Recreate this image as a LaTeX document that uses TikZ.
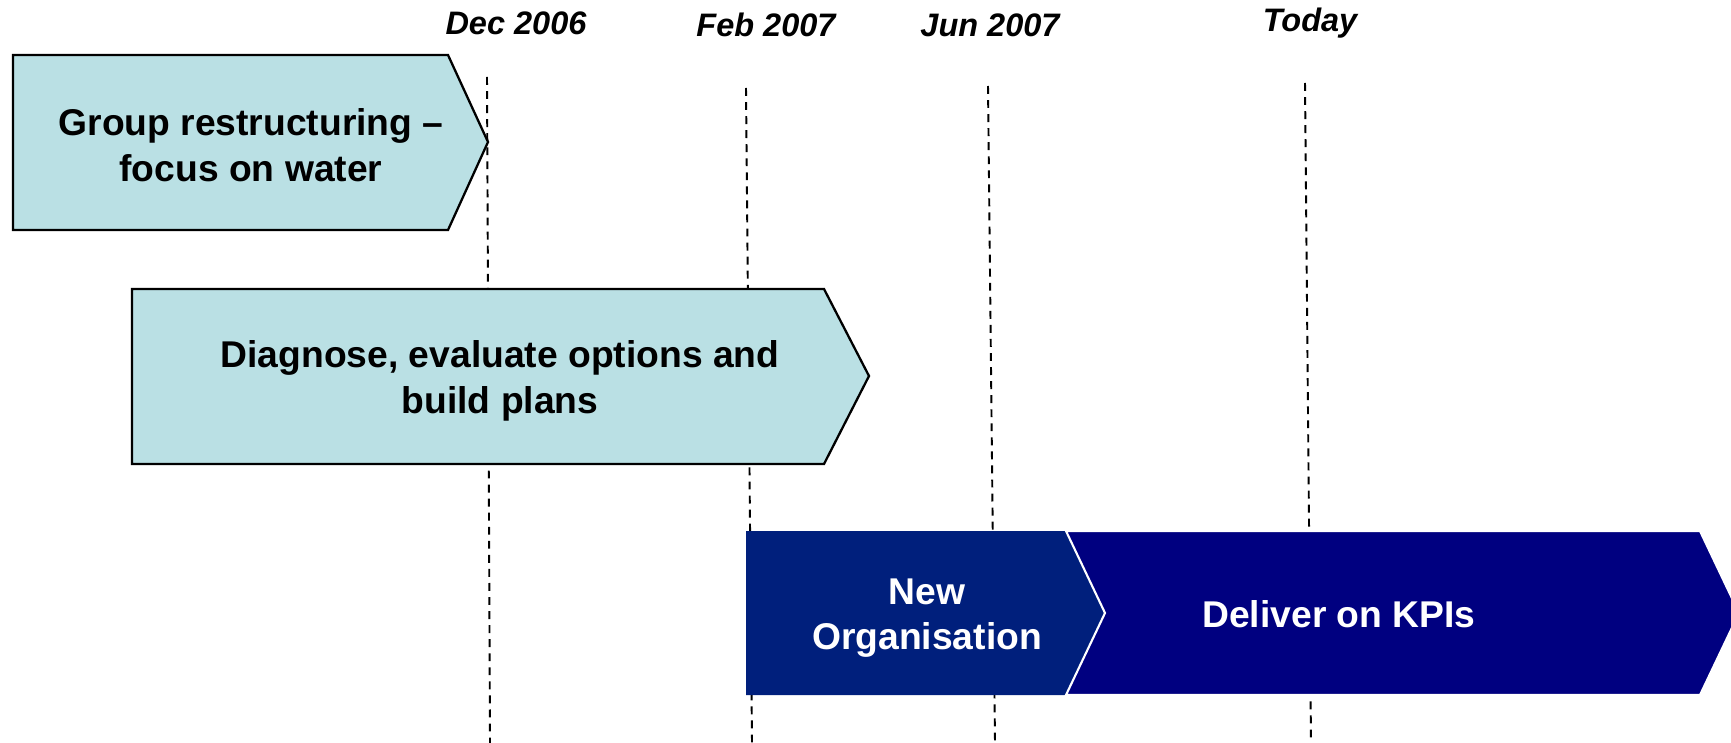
\documentclass[tikz,border=0pt]{standalone}
\usepackage{fontspec}
\setmainfont{Liberation Sans}
\usetikzlibrary{positioning}
\definecolor{phaseLight}{RGB}{186,224,228}
\definecolor{phaseBlue}{RGB}{0,31,124}
\definecolor{phaseNavy}{RGB}{0,0,128}
\tikzset{
	timeline chart/.style={
		x=0.02cm, y=-0.02cm,
		font=\fontsize{21.2}{26}\selectfont\bfseries
	},
	milestone/.style={
		dash pattern=on 4.5pt off 3.5pt,
		line width=1.1pt
	},
	milestone label/.style={
		font=\fontsize{18.5}{22}\selectfont\bfseries\itshape,
		inner sep=0pt
	},
	phase/.style={
		fill=phaseLight,
		draw=black,
		line width=1.3pt
	},
	phase dark/.style={
		fill=#1,
		draw=white,
		line width=1.2pt
	},
	phase text/.style={
		align=center,
		inner sep=0pt
	},
	phase text light/.style={
		phase text,
		text=white
	}
}

\begin{document}
\begin{tikzpicture}[timeline chart]
	\useasboundingbox (0,0) rectangle (1731,743);
	% milestones, drawn behind the phases
	\coordinate (dec top) at (487,77);
	\coordinate (dec bottom) at (490,743);
	\coordinate (feb top) at (746,88);
	\coordinate (feb bottom) at (752,743);
	\coordinate (jun top) at (988,86);
	\coordinate (jun bottom) at (995,743);
	\coordinate (today top) at (1305,83);
	\coordinate (today bottom) at (1311,743);
	\draw[milestone] (dec top) -- (dec bottom);
	\draw[milestone] (feb top) -- (feb bottom);
	\draw[milestone] (jun top) -- (jun bottom);
	\draw[milestone] (today top) -- (today bottom);
	\node[milestone label] (dec label) at (516,23) {Dec 2006};
	\node[milestone label] (feb label) at (766,25) {Feb 2007};
	\node[milestone label] (jun label) at (990,25) {Jun 2007};
	\node[milestone label] (today label) at (1310,23) {Today};
	% phases
	\draw[phase] (13,55) -- (448,55) -- (488,142) -- (448,230) -- (13,230) -- cycle;
	\node[phase text] (restructuring) at (251,145) {Group restructuring --\\focus on water};
	\draw[phase] (132,289) -- (824,289) -- (869,376) -- (824,464) -- (132,464) -- cycle;
	\node[phase text] (diagnose) at (500,381) {Diagnose, evaluate options and\\build plans};
	\fill[phaseBlue] (746,531) -- (1066,531) -- (1105,613) -- (1066,695) -- (746,695) -- cycle;
	\node[phase text light] (new org) at (927,618) {New\\Organisation};
	\draw[phase dark=phaseNavy] (1066,531) -- (1700,531) -- (1739,613) -- (1700,695)
		-- (1066,695) -- (1105,613) -- cycle;
	\node[phase text light] (kpis) at (1339,614) {Deliver on KPIs};
\end{tikzpicture}
\end{document}
